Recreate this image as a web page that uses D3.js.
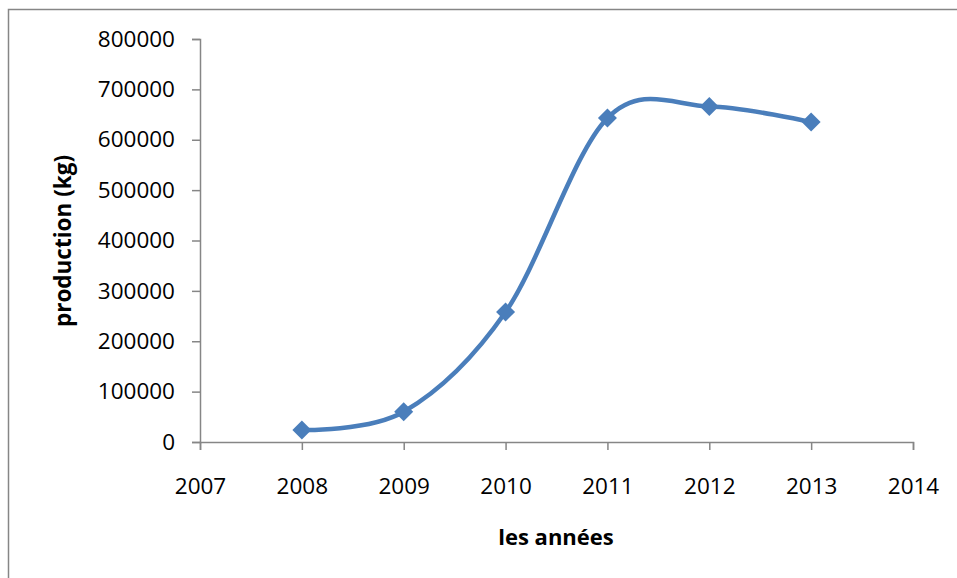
<!DOCTYPE html>
<html>
<head>
<meta charset="utf-8">
<script src="https://d3js.org/d3.v7.min.js"></script>
<style>
  body { margin: 0; background: white; }
  svg text { font-family: "Open Sans", "Liberation Sans", sans-serif; fill: #000; }
</style>
</head>
<body>
<svg id="chart" width="957" height="578"></svg>
<script>
// data
const years = [2008, 2009, 2010, 2011, 2012, 2013];
const production = [24000, 60000, 258000, 643000, 666000, 635000];
const yTicks = [0, 100000, 200000, 300000, 400000, 500000, 600000, 700000, 800000];
const xTicks = [2007, 2008, 2009, 2010, 2011, 2012, 2013, 2014];

const svg = d3.select("#chart");

// outer chart border (only left/top visible in the picture)
svg.append("rect")
  .attr("x", 8.5).attr("y", 9.5)
  .attr("width", 1000).attr("height", 1000)
  .attr("fill", "none").attr("stroke", "#868686").attr("stroke-width", 1.5);

const x = d3.scaleLinear([2007, 2014], [200, 913]);
const y = d3.scaleLinear([0, 800000], [442, 39]);

const yAxis = svg.append("g")
  .attr("transform", "translate(200,0)")
  .call(d3.axisLeft(y).tickValues(yTicks).tickFormat(d3.format("d")).tickSize(8).tickPadding(17));

const xAxis = svg.append("g")
  .attr("transform", "translate(0,442)")
  .call(d3.axisBottom(x).tickValues(xTicks).tickFormat(d3.format("d")).tickSize(8).tickPadding(28));

[yAxis, xAxis].forEach(g => {
  g.select(".domain").attr("stroke", "#868686").attr("stroke-width", 1.5);
  g.selectAll(".tick line").attr("stroke", "#868686").attr("stroke-width", 1.5);
  g.selectAll(".tick text").style("font-size", "22.5px").attr("fill", "#000");
});

svg.append("text")
  .attr("transform", "translate(71,241) rotate(-90)")
  .attr("text-anchor", "middle")
  .style("font-size", "22.5px").style("font-weight", "bold")
  .text("production (kg)");

svg.append("text")
  .attr("x", 556).attr("y", 545)
  .attr("text-anchor", "middle")
  .style("font-size", "22px").style("font-weight", "bold")
  .text("les années");

const pts = years.map((yr, i) => [x(yr), y(production[i])]);

svg.append("path")
  .attr("d", d3.line().curve(d3.curveCardinal.tension(0))(pts))
  .attr("fill", "none")
  .attr("stroke", "#4a7ebb")
  .attr("stroke-width", 4.5);

svg.selectAll(".mk")
  .data(pts)
  .join("path")
  .attr("class", "mk")
  .attr("transform", d => `translate(${d[0]},${d[1]})`)
  .attr("d", d3.symbol(d3.symbolDiamond2, 230))
  .attr("fill", "#4a7ebb");
</script>
</body>
</html>
